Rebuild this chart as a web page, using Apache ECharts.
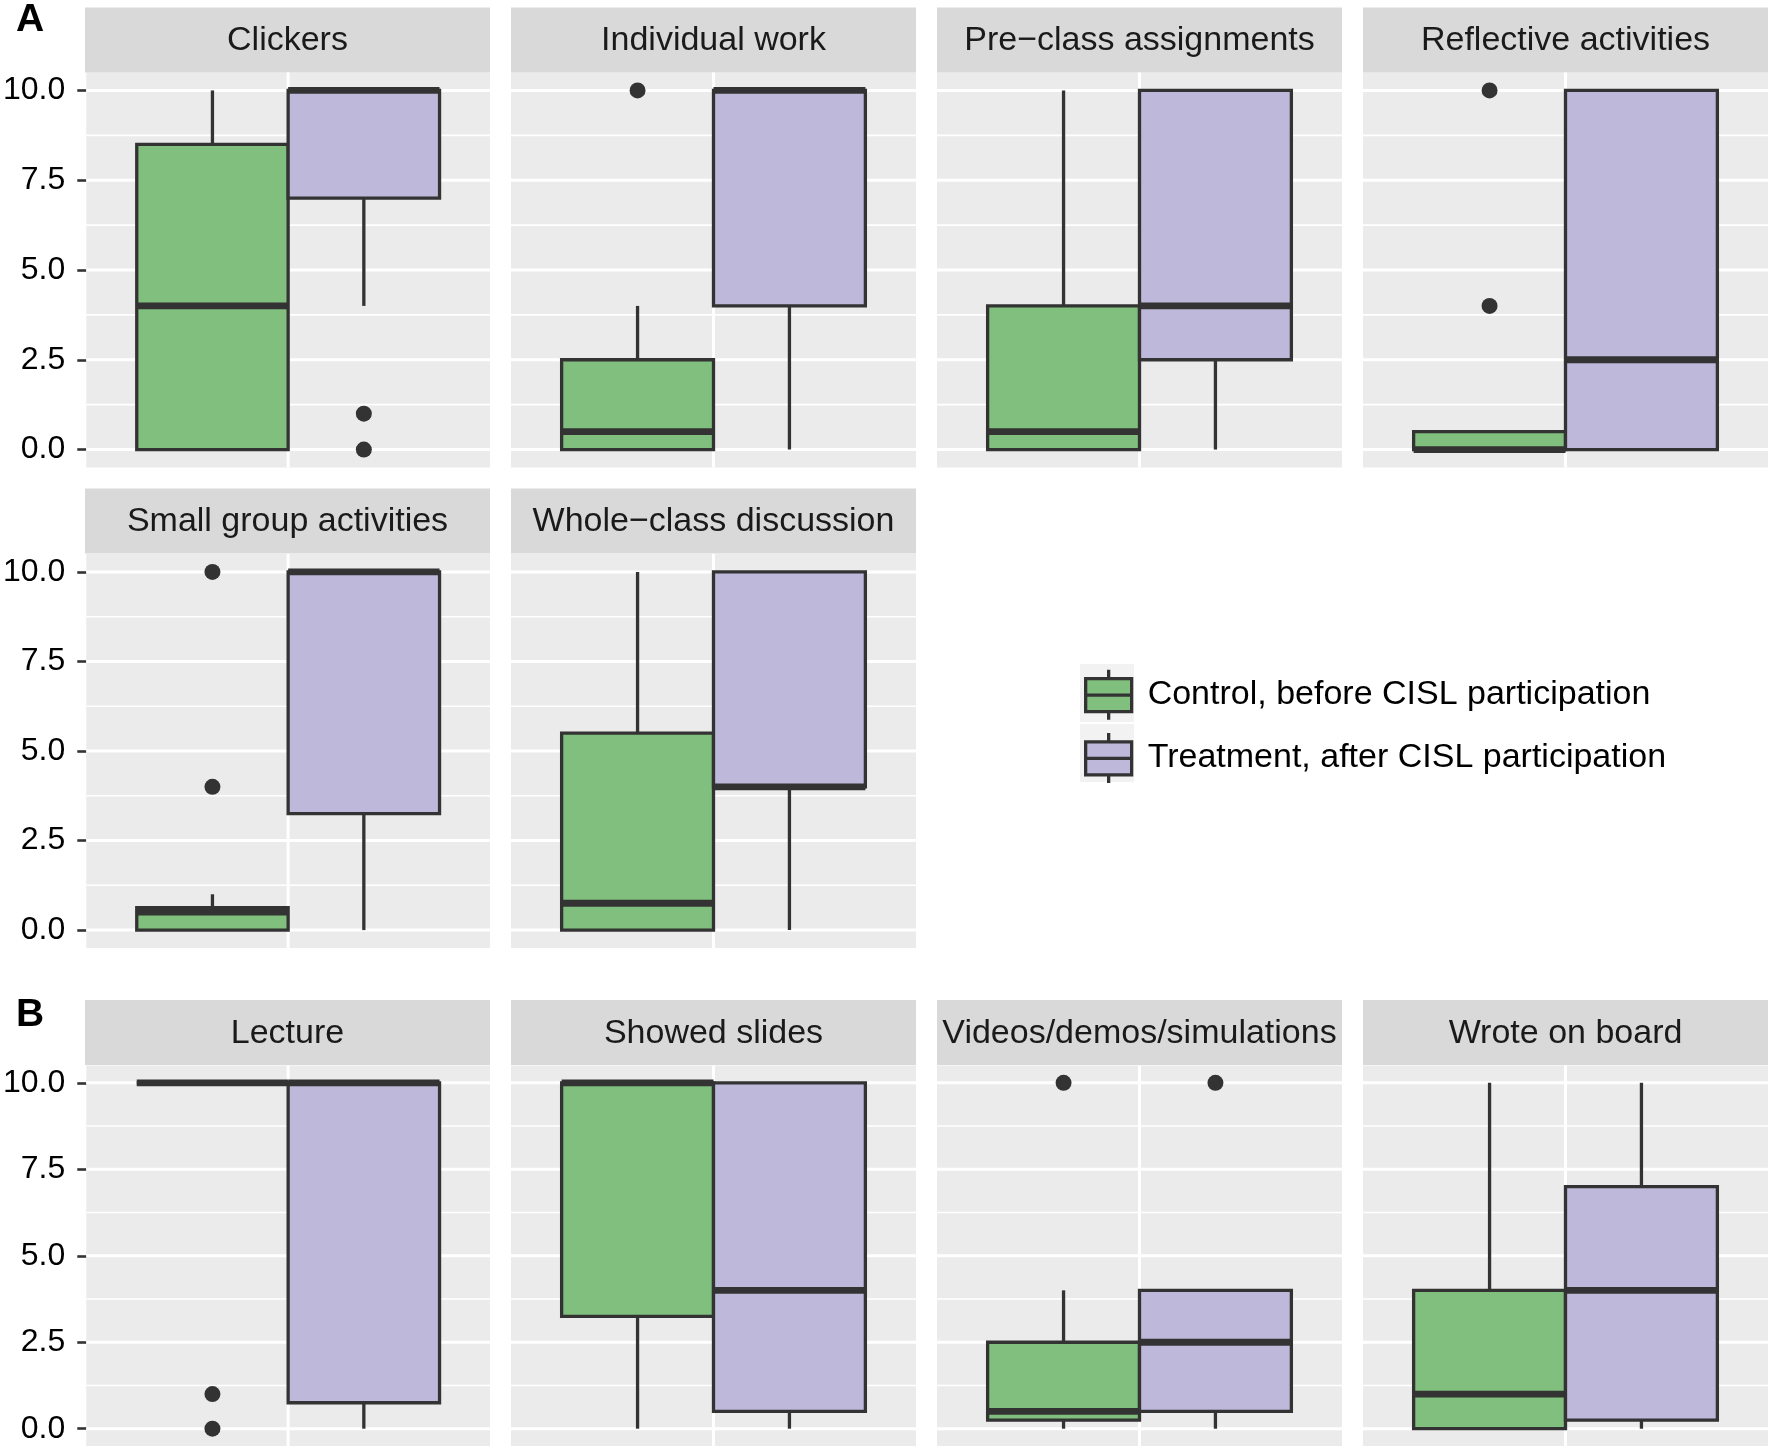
<!DOCTYPE html>
<html><head><meta charset="utf-8">
<script src="https://cdn.jsdelivr.net/npm/echarts@6/dist/echarts.min.js"></script>
<style>html,body{margin:0;padding:0;background:#fff}#chart{width:1770px;height:1447px}</style>
</head><body><div id="chart"></div>
<script>
// ---------------- data ----------------
const panelTitles = ['Clickers', 'Individual work', 'Pre\u2212class assignments', 'Reflective activities',
  'Small group activities', 'Whole\u2212class discussion',
  'Lecture', 'Showed slides', 'Videos/demos/simulations', 'Wrote on board'];
// [lower whisker, Q1, median, Q3, upper whisker]
const controlStats = [
  [0, 0, 4, 8.5, 10],
  [0, 0, 0.5, 2.5, 4],
  [0, 0, 0.5, 4, 10],
  [0, 0, 0, 0.5, 0.5],
  [0, 0, 0.5, 0.625, 1],
  [0, 0, 0.75, 5.5, 10],
  [10, 10, 10, 10, 10],
  [0, 3.25, 10, 10, 10],
  [0, 0.25, 0.5, 2.5, 4],
  [0, 0, 1, 4, 10]
];
const treatmentStats = [
  [4, 7, 10, 10, 10],
  [0, 4, 10, 10, 10],
  [0, 2.5, 4, 10, 10],
  [0, 0, 2.5, 10, 10],
  [0, 3.25, 10, 10, 10],
  [0, 4, 4, 10, 10],
  [0, 0.75, 10, 10, 10],
  [0, 0.5, 4, 10, 10],
  [0, 0.5, 2.5, 4, 4],
  [0, 0.25, 4, 7, 10]
];
const controlOutliers = [[], [10], [], [10, 4], [10, 4], [], [1, 0], [], [10], []];
const treatmentOutliers = [[1, 0], [], [], [], [], [], [], [], [10], []];
const yTickValues = [0, 2.5, 5, 7.5, 10];
const yMinorValues = [1.25, 3.75, 6.25, 8.75];
const groupNames = ['Control, before CISL participation', 'Treatment, after CISL participation'];
const panelLetters = ['A', 'B'];

// ---------------- layout / style ----------------
const FONT = "'Liberation Sans', Arial, Helvetica, sans-serif";
const GREEN = '#80BF7D', PURPLE = '#BEB9DA', INK = '#333333';
const colLeft = [85, 511, 937, 1363];
const panelW = 405;
const rows = [
  { strip: 7.5, top: 72.5, h: 395 },
  { strip: 488.5, top: 554, h: 394 },
  { strip: 1000, top: 1065.5, h: 380.5 }
];
const stripH = 65;
const cells = [[0,0],[0,1],[0,2],[0,3],[1,0],[1,1],[2,0],[2,1],[2,2],[2,3]];
const X_CTRL = 0.775, X_TRT = 1.225, HALF = 0.225;

function boxRender(params, api) {
  const x = api.value(0);
  const lw = api.value(1), q1 = api.value(2), med = api.value(3), q3 = api.value(4), uw = api.value(5);
  const tl = api.coord([x - HALF, q3]);
  const br = api.coord([x + HALF, q1]);
  const wTop = api.coord([x, uw]), wQ3 = api.coord([x, q3]);
  const wBot = api.coord([x, lw]), wQ1 = api.coord([x, q1]);
  const mL = api.coord([x - HALF, med]), mR = api.coord([x + HALF, med]);
  const fill = api.visual('color');
  return {
    type: 'group',
    children: [
      { type: 'line', shape: { x1: wTop[0], y1: wTop[1], x2: wQ3[0], y2: wQ3[1] }, style: { stroke: INK, lineWidth: 3.3 } },
      { type: 'line', shape: { x1: wBot[0], y1: wBot[1], x2: wQ1[0], y2: wQ1[1] }, style: { stroke: INK, lineWidth: 3.3 } },
      { type: 'rect', shape: { x: tl[0], y: tl[1], width: br[0] - tl[0], height: br[1] - tl[1] }, style: { fill: fill, stroke: INK, lineWidth: 3.3 } },
      { type: 'line', shape: { x1: mL[0], y1: mL[1], x2: mR[0], y2: mR[1] }, style: { stroke: INK, lineWidth: 6.8 } }
    ]
  };
}

function gridRender(params, api) {
  const v = api.value(0), kind = api.value(1);
  let a, b;
  if (kind === 2) { a = api.coord([v, -0.5]); b = api.coord([v, 10.5]); }
  else { a = api.coord([0.4, v]); b = api.coord([1.6, v]); }
  return { type: 'line', shape: { x1: a[0], y1: a[1], x2: b[0], y2: b[1] },
    style: { stroke: '#FFFFFF', lineWidth: kind === 1 ? 1.6 : 3 } };
}

const grids = [], xAxes = [], yAxes = [], series = [], graphics = [];
panelTitles.forEach((title, i) => {
  const [r, c] = cells[i];
  const row = rows[r];
  grids.push({ left: colLeft[c], top: row.top, width: panelW, height: row.h,
    show: true, backgroundColor: '#EBEBEB', borderWidth: 0, containLabel: false });
  xAxes.push({ gridIndex: i, type: 'value', min: 0.4, max: 1.6, show: false });
  yAxes.push({ gridIndex: i, type: 'value', min: -0.5, max: 10.5,
    axisLine: { show: false }, splitLine: { show: false },
    axisTick: { show: c === 0, customValues: yTickValues, length: 9, lineStyle: { color: INK, width: 2.6 } },
    axisLabel: { show: c === 0, customValues: yTickValues, formatter: v => v.toFixed(1),
      fontSize: 32, color: '#000', fontFamily: FONT, margin: 21 } });
  const gridData = yTickValues.map(v => [v, 0]).concat(yMinorValues.map(v => [v, 1])).concat([[1, 2]]);
  series.push({ type: 'custom', xAxisIndex: i, yAxisIndex: i, z: 1, silent: true,
    renderItem: gridRender, data: gridData, encode: { y: 0 }, tooltip: { show: false } });
  series.push({ type: 'custom', name: groupNames[0], xAxisIndex: i, yAxisIndex: i, z: 2,
    itemStyle: { color: GREEN }, renderItem: boxRender,
    data: [[X_CTRL].concat(controlStats[i])], encode: { x: 0, y: [1, 2, 3, 4, 5] } });
  series.push({ type: 'custom', name: groupNames[1], xAxisIndex: i, yAxisIndex: i, z: 2,
    itemStyle: { color: PURPLE }, renderItem: boxRender,
    data: [[X_TRT].concat(treatmentStats[i])], encode: { x: 0, y: [1, 2, 3, 4, 5] } });
  const pts = controlOutliers[i].map(v => [X_CTRL, v]).concat(treatmentOutliers[i].map(v => [X_TRT, v]));
  series.push({ type: 'scatter', xAxisIndex: i, yAxisIndex: i, z: 3, silent: true,
    symbolSize: 16, itemStyle: { color: INK, opacity: 1 }, data: pts });
  // facet strip
  graphics.push({ type: 'rect', shape: { x: colLeft[c], y: row.strip, width: panelW, height: stripH },
    style: { fill: '#D9D9D9' }, silent: true });
  graphics.push({ type: 'text', x: colLeft[c] + panelW / 2, y: row.strip + stripH / 2 + 1,
    style: { text: title, fontSize: 34, fontFamily: FONT, fill: '#1A1A1A', textAlign: 'center', textVerticalAlign: 'middle' }, silent: true });
});

// panel letters
graphics.push({ type: 'text', x: 16, y: 20, style: { text: panelLetters[0], fontSize: 39, fontWeight: 'bold', fontFamily: FONT, fill: '#000', textAlign: 'left', textVerticalAlign: 'middle' } });
graphics.push({ type: 'text', x: 16, y: 1015, style: { text: panelLetters[1], fontSize: 39, fontWeight: 'bold', fontFamily: FONT, fill: '#000', textAlign: 'left', textVerticalAlign: 'middle' } });
// legend key backgrounds
graphics.push({ type: 'rect', shape: { x: 1080, y: 664, width: 54, height: 58 }, style: { fill: '#F2F2F2' }, z: -1 });
graphics.push({ type: 'rect', shape: { x: 1080, y: 724, width: 54, height: 58 }, style: { fill: '#F2F2F2' }, z: -1 });

const chart = echarts.init(document.getElementById('chart'), null, { renderer: 'canvas' });
chart.setOption({
  backgroundColor: '#FFFFFF',
  animation: false,
  grid: grids, xAxis: xAxes, yAxis: yAxes, series: series,
  graphic: { elements: graphics },
  legend: {
    data: groupNames, orient: 'vertical', left: 1073, top: 668, padding: 0,
    itemWidth: 68, itemHeight: 50, itemGap: 10, selectedMode: false,
    icon: 'path://M0,25M68,25M11,9L57,9L57,42L11,42ZM11,25.5L57,25.5M34,0L34,9M34,42L34,50',
    itemStyle: { borderColor: INK, borderWidth: 3.3 },
    textStyle: { fontSize: 34, fontFamily: FONT, color: '#000' }
  }
});
</script></body></html>
